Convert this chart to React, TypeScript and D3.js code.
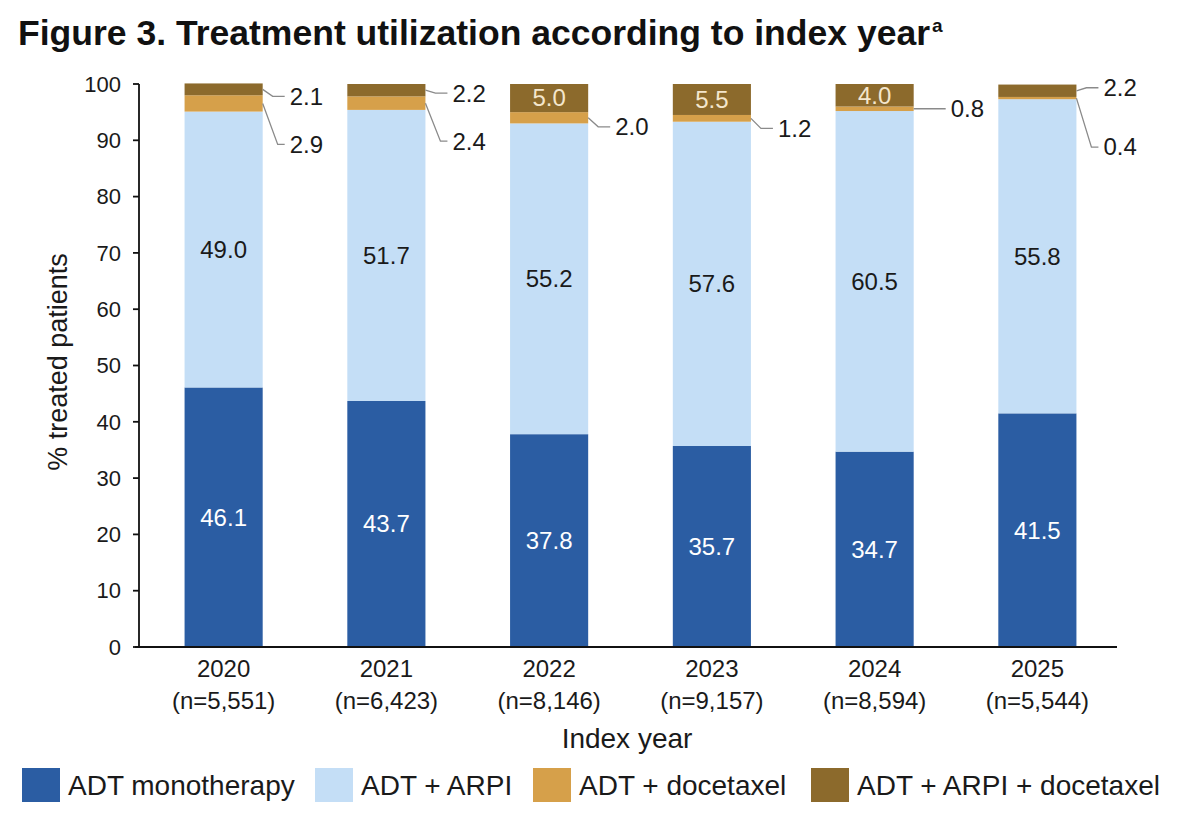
import React from "react";
import * as d3 from "d3";

const years = ["2020", "2021", "2022", "2023", "2024", "2025"];
const nLabels = ["(n=5,551)", "(n=6,423)", "(n=8,146)", "(n=9,157)", "(n=8,594)", "(n=5,544)"];
const seriesNames = ["ADT monotherapy", "ADT + ARPI", "ADT + docetaxel", "ADT + ARPI + docetaxel"];
const adtMono = [46.1, 43.7, 37.8, 35.7, 34.7, 41.5];
const adtArpi = [49.0, 51.7, 55.2, 57.6, 60.5, 55.8];
const adtDoc = [2.9, 2.4, 2.0, 1.2, 0.8, 0.4];
const adtArpiDoc = [2.1, 2.2, 5.0, 5.5, 4.0, 2.2];
const yTicks = [0, 10, 20, 30, 40, 50, 60, 70, 80, 90, 100];

const colors = ["#2B5DA3", "#C4DEF6", "#D6A04A", "#8C6A2C"];
const labelColors = ["#FFFFFF", "#1a1a1a", "#1a1a1a", "#F4E6CC"];

// leader-label layout: [seriesIndex][yearIndex] -> pixel offset of label from segment middle (null = inside)
const outsideOffsets: (number | null)[][] = [
  [null, null, null, null, null, null],
  [null, null, null, null, null, null],
  [41, 38, 9, 10, 0, 49],
  [7, 3, null, null, null, -3],
];

const W = 1200;
const H = 825;
const margin = { left: 139, right: 1117, top: 84, bottom: 647 };
const FONT = "Arial, 'Liberation Sans', Helvetica, sans-serif";

export default function App() {
  const x = d3.scaleBand<string>().domain(years).range([margin.left, 1122]).paddingInner(0.52).paddingOuter(0.28);
  const y = d3.scaleLinear().domain([0, 100]).range([margin.bottom, margin.top]);

  const rows = years.map((yr, i) => ({
    year: yr,
    s0: adtMono[i],
    s1: adtArpi[i],
    s2: adtDoc[i],
    s3: adtArpiDoc[i],
  }));
  const stack = d3.stack<any>().keys(["s0", "s1", "s2", "s3"]);
  const stacked = stack(rows);
  const bw = x.bandwidth();

  const legendX = [22, 315, 533, 811];

  return (
    <svg width={W} height={H} style={{ position: "absolute", left: 0, top: 0, background: "#fff" }} fontFamily={FONT}>
      <rect x={0} y={0} width={W} height={H} fill="#fff" />
      {/* Title */}
      <text x={18} y={45} fontSize={35} fontWeight="bold" fill="#111" textLength={912} lengthAdjust="spacingAndGlyphs">
        Figure 3. Treatment utilization according to index year
      </text>
      <text x={932} y={32} fontSize={19} fontWeight="bold" fill="#111">a</text>

      {/* Bars */}
      {stacked.map((layer, si) => (
        <g key={si}>
          {layer.map((d, i) => {
            const bx = x(years[i])!;
            const y0 = y(d[0]);
            const y1 = y(d[1]);
            return <rect key={i} x={bx} y={y1} width={bw} height={Math.max(0, y0 - y1)} fill={colors[si]} />;
          })}
        </g>
      ))}

      {/* Data labels */}
      {stacked.map((layer, si) => (
        <g key={"l" + si}>
          {layer.map((d, i) => {
            const bx = x(years[i])!;
            const val = d[1] - d[0];
            const mid = y((d[0] + d[1]) / 2);
            const off = outsideOffsets[si][i];
            const txt = val.toFixed(1);
            if (off === null) {
              return (
                <text key={i} x={bx + bw / 2} y={mid} dy="0.35em" textAnchor="middle" fontSize={24} fill={labelColors[si]}>
                  {txt}
                </text>
              );
            }
            const ex = bx + bw;
            const ly = mid + off;
            const pts =
              Math.abs(off) < 2
                ? [[ex, mid], [ex + 32, mid]]
                : [[ex, mid], [ex + (Math.abs(off) > 20 ? 15 : 10), ly], [ex + 22, ly]];
            const lineGen = d3.line();
            const endX = pts[pts.length - 1][0];
            return (
              <g key={i}>
                <path d={lineGen(pts as [number, number][])!} fill="none" stroke="#8a8a8a" strokeWidth={1.3} />
                <text x={endX + 5} y={ly} dy="0.35em" fontSize={24} fill="#1a1a1a">
                  {txt}
                </text>
              </g>
            );
          })}
        </g>
      ))}

      {/* Y axis */}
      <line x1={margin.left} x2={margin.left} y1={y(100)} y2={y(0)} stroke="#111" strokeWidth={1.8} />
      {yTicks.map((t) => (
        <g key={t}>
          <line x1={margin.left - 6} x2={margin.left} y1={y(t)} y2={y(t)} stroke="#111" strokeWidth={1.8} />
          <text x={121} y={y(t)} dy="0.35em" textAnchor="end" fontSize={22} fill="#1a1a1a">
            {t}
          </text>
        </g>
      ))}
      <text transform={`translate(67, 362) rotate(-90)`} textAnchor="middle" fontSize={27} fill="#1a1a1a">
        % treated patients
      </text>

      {/* X axis */}
      <line x1={135} x2={margin.right} y1={y(0)} y2={y(0)} stroke="#111" strokeWidth={1.8} />
      {years.map((yr, i) => (
        <g key={yr}>
          <text x={x(yr)! + bw / 2} y={677} textAnchor="middle" fontSize={24} fill="#1a1a1a">
            {yr}
          </text>
          <text x={x(yr)! + bw / 2} y={709} textAnchor="middle" fontSize={24} fill="#1a1a1a">
            {nLabels[i]}
          </text>
        </g>
      ))}
      <text x={627} y={748} textAnchor="middle" fontSize={28} fill="#1a1a1a">
        Index year
      </text>

      {/* Legend */}
      {seriesNames.map((s, i) => (
        <g key={s}>
          <rect x={legendX[i]} y={768} width={38} height={34} fill={colors[i]} />
          <text x={legendX[i] + 46} y={785} dy="0.35em" fontSize={28} fill="#1a1a1a">
            {s}
          </text>
        </g>
      ))}
    </svg>
  );
}
